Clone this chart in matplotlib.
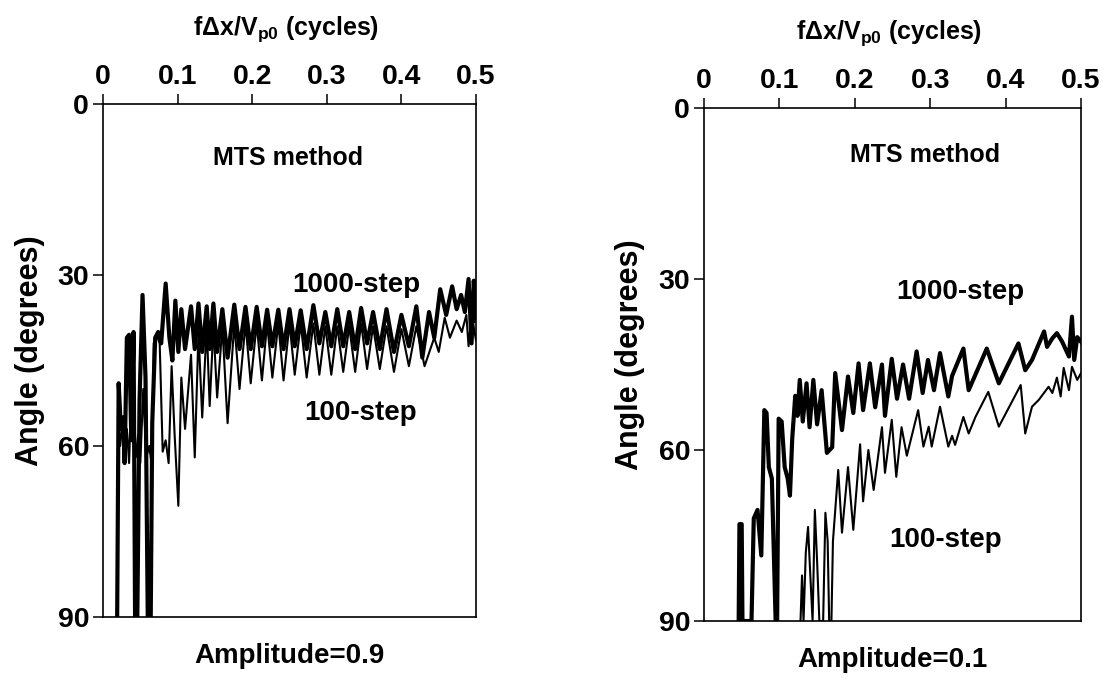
import matplotlib
matplotlib.use("Agg")
import matplotlib.pyplot as plt

plt.rcParams['font.family'] = ['Liberation Sans', 'DejaVu Sans']
plt.rcParams['font.weight'] = 'bold'
plt.rcParams['mathtext.fontset'] = 'custom'
plt.rcParams['mathtext.rm'] = 'Liberation Sans:bold'
plt.rcParams['mathtext.bf'] = 'Liberation Sans:bold'

# --- Amplitude = 0.9 (left panel) ---
x_1000_a = [0.019, 0.021, 0.024, 0.027, 0.029, 0.032, 0.035, 0.038, 0.041, 0.043,
            0.046, 0.049, 0.053, 0.057, 0.060, 0.064, 0.066, 0.070, 0.074, 0.078,
            0.084, 0.089, 0.093, 0.097, 0.101, 0.105, 0.110, 0.118, 0.123, 0.128,
            0.133, 0.139, 0.143, 0.148, 0.153, 0.160, 0.167, 0.176, 0.183, 0.191,
            0.198, 0.206, 0.213, 0.220, 0.227, 0.235, 0.242, 0.250, 0.257, 0.265,
            0.273, 0.282, 0.290, 0.298, 0.306, 0.314, 0.322, 0.330, 0.338, 0.346,
            0.354, 0.362, 0.371, 0.380, 0.390, 0.400, 0.410, 0.420, 0.428, 0.437,
            0.444, 0.452, 0.460, 0.468, 0.474, 0.480, 0.485, 0.490, 0.494, 0.497,
            0.500]
y_1000_a = [90, 49, 57, 55, 63, 41, 40.5, 59, 40, 90,
            90, 52, 33.5, 48, 90, 90, 56, 41, 40, 42,
            31.5, 41, 45, 34.5, 43.5, 36, 43, 35.5, 43, 35,
            43.5, 35.5, 43, 35, 43.5, 36, 44.5, 35.2, 43, 35.6,
            43, 35.6, 42.5, 36.1, 42.5, 36.1, 43, 36, 42.5, 36.2,
            43, 35.3, 42, 36.5, 42.5, 36, 42.5, 36.5, 43, 35.8,
            42, 36.5, 43, 36, 43.5, 37, 42.5, 35.5, 44.5, 36.5,
            41, 32.5, 37, 32, 36, 33.5, 36.5, 30.7, 42, 31,
            38]

x_100_a = [0.020, 0.023, 0.026, 0.029, 0.032, 0.035, 0.038, 0.041, 0.044, 0.047,
           0.050, 0.054, 0.058, 0.062, 0.066, 0.068, 0.072, 0.076, 0.080, 0.084,
           0.088, 0.092, 0.096, 0.101, 0.105, 0.110, 0.118, 0.123, 0.128, 0.133,
           0.139, 0.143, 0.148, 0.153, 0.160, 0.167, 0.176, 0.183, 0.191, 0.198,
           0.206, 0.213, 0.220, 0.227, 0.235, 0.242, 0.250, 0.257, 0.265, 0.273,
           0.282, 0.290, 0.298, 0.306, 0.314, 0.322, 0.330, 0.338, 0.346, 0.354,
           0.362, 0.371, 0.380, 0.390, 0.400, 0.410, 0.420, 0.431, 0.444, 0.450,
           0.458, 0.465, 0.474, 0.481, 0.487, 0.490, 0.494, 0.500]
y_100_a = [55, 60, 56, 62, 57, 63, 50, 56, 62, 58,
           63, 50, 62, 60, 64, 42, 40.5, 42, 61, 59,
           63, 46, 58, 70.5, 48, 57, 44, 62, 40, 55,
           39, 53, 39, 51.5, 39, 56, 38.5, 50, 38.5, 49,
           38.5, 48.5, 38.5, 48, 38.5, 48.5, 38.5, 47.5, 38.5, 48,
           38.5, 47.5, 39, 47.5, 39, 47, 39, 47, 38.5, 46.5,
           39, 46.5, 39, 47, 39.5, 46, 39, 46, 41, 43.5,
           37.5, 41, 38, 40, 37, 42.5, 37, 41.5]

# --- Amplitude = 0.1 (right panel) ---
x_1000_b = [0.046, 0.047, 0.050, 0.051, 0.063, 0.066, 0.071, 0.076, 0.080, 0.083,
            0.086, 0.090, 0.095, 0.097, 0.099, 0.103, 0.107, 0.111, 0.114, 0.117,
            0.121, 0.124, 0.127, 0.131, 0.136, 0.140, 0.145, 0.150, 0.156, 0.163,
            0.170, 0.174, 0.183, 0.191, 0.198, 0.205, 0.211, 0.220, 0.227, 0.236,
            0.240, 0.249, 0.256, 0.264, 0.272, 0.282, 0.290, 0.297, 0.305, 0.313,
            0.324, 0.329, 0.344, 0.351, 0.375, 0.391, 0.417, 0.426, 0.435, 0.451,
            0.455, 0.462, 0.468, 0.475, 0.484, 0.488, 0.491, 0.495, 0.500]
y_1000_b = [90, 73, 73, 90, 90, 72, 70.5, 78.5, 53, 53.5,
            63, 65, 90, 90, 54.5, 55, 63, 65, 68, 58,
            50.5, 54, 47.7, 55, 48.3, 56, 47.7, 55.5, 49.5, 60.5,
            59.5, 46.5, 56.5, 47.1, 53.5, 44.8, 53, 44.8, 52.5, 45,
            54, 44, 51, 45, 51, 42.7, 50, 44.2, 49.5, 43,
            50.6, 47, 42.2, 49.5, 42.2, 48.3, 41.3, 46, 44.2, 39.2,
            41.9, 40.4, 39.5, 41, 43.6, 36.6, 44.2, 40.2, 41]

x_100_b = [0.128, 0.130, 0.132, 0.135, 0.138, 0.141, 0.144, 0.147, 0.150, 0.153,
           0.158, 0.161, 0.164, 0.166, 0.169, 0.171, 0.178, 0.183, 0.191, 0.198,
           0.207, 0.211, 0.218, 0.225, 0.236, 0.240, 0.249, 0.255, 0.262, 0.269,
           0.284, 0.291, 0.298, 0.302, 0.313, 0.324, 0.329, 0.333, 0.344, 0.351,
           0.360, 0.377, 0.391, 0.420, 0.426, 0.435, 0.444, 0.457, 0.462, 0.468,
           0.473, 0.477, 0.484, 0.488, 0.495, 0.500]
y_100_b = [90, 82, 90, 78, 73.5, 82, 90, 70.5, 79.5, 90,
           90, 71, 76, 90, 90, 76, 63.5, 74.5, 63, 74,
           59, 69, 60, 67, 56, 64, 54.7, 64.7, 56, 61,
           53, 59.4, 55.9, 59.4, 52.4, 59.4, 57.5, 59.1, 54.2, 57.1,
           54.2, 49.8, 55.9, 48.6, 57.1, 52.4, 51.2, 48.9, 50, 47.3,
           50.6, 45.6, 49.5, 45.4, 47.7, 46.5]

x_ticks = [0, 0.1, 0.2, 0.3, 0.4, 0.5]
x_tick_labels = ['0', '0.1', '0.2', '0.3', '0.4', '0.5']
y_ticks = [0, 30, 60, 90]

panels = [
    dict(rect=[0.0932, 0.0993, 0.3376, 0.7489], amp='Amplitude=0.9',
         thick=(x_1000_a, y_1000_a), thin=(x_100_a, y_100_a),
         lab1000=(0.340, 31.8), lab100=(0.345, 54.2), mts=(0.248, 9.5)),
    dict(rect=[0.6371, 0.0934, 0.3412, 0.7489], amp='Amplitude=0.1',
         thick=(x_1000_b, y_1000_b), thin=(x_100_b, y_100_b),
         lab1000=(0.340, 32.3), lab100=(0.320, 75.8), mts=(0.293, 8.2)),
]

fig = plt.figure(figsize=(11.05, 6.85), dpi=100)

for p in panels:
    ax = fig.add_axes(p['rect'])
    ax.plot(*p['thin'], color='black', lw=1.5)
    ax.plot(*p['thick'], color='black', lw=3.0)
    ax.set_xlim(0, 0.5)
    ax.set_ylim(90, 0)
    ax.xaxis.tick_top()
    ax.set_xticks(x_ticks)
    ax.set_xticklabels(x_tick_labels)
    ax.set_yticks(y_ticks)
    ax.tick_params(axis='both', direction='out', length=7, width=1.1,
                   labelsize=20.5, pad=3)
    for s in ax.spines.values():
        s.set_linewidth(1.2)
    ax.text(*p['mts'], 'MTS method', ha='center', va='center', fontsize=18)
    ax.text(*p['lab1000'], '1000-step', ha='center', va='center', fontsize=20)
    ax.text(*p['lab100'], '100-step', ha='center', va='center', fontsize=20)
    ax.text(0.49, 1.145, 'fΔx/V$_{\\mathbf{p0}}$ (cycles)', transform=ax.transAxes,
            ha='center', va='center', fontsize=18)
    ax.text(0.5, -0.076, p['amp'], transform=ax.transAxes,
            ha='center', va='center', fontsize=20)
    ax.text(-0.196, 0.52, 'Angle (degrees)', transform=ax.transAxes,
            ha='center', va='center', rotation=90, fontsize=22)

fig.savefig('out.png', dpi=100)
